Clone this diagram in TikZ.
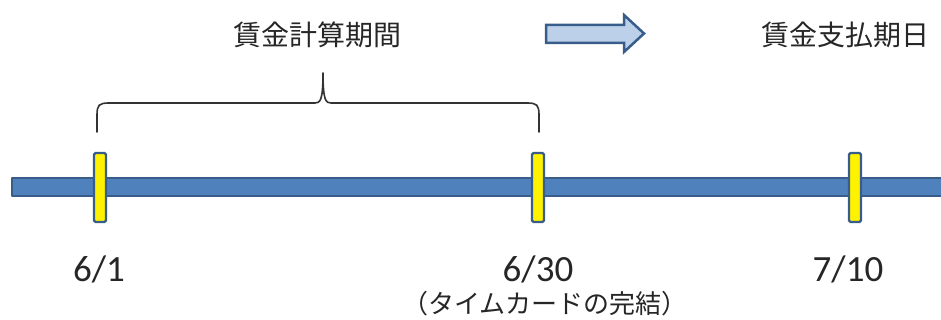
\documentclass[tikz,border=0pt]{standalone}
\usepackage{fontspec}
\setmainfont{Carlito}
\newfontfamily\cjk{Noto Sans CJK JP}
\definecolor{barblue}{HTML}{4F81BD}
\definecolor{edgeblue}{HTML}{385D8A}
\definecolor{arrowfill}{HTML}{BDD0E9}
\tikzset{
  marker/.style={draw=edgeblue, line width=2.2pt, fill=yellow, rounded corners=1.5pt,
    minimum width=12pt, minimum height=69pt, inner sep=0pt},
  datelabel/.style={anchor=base, font=\fontsize{37}{40}\selectfont, text=black!85, inner sep=0pt},
  toplabel/.style={font=\cjk\fontsize{28}{32}\selectfont, text=black!85, inner sep=0pt},
  notelabel/.style={font=\cjk\fontsize{26}{30}\selectfont, text=black!85, inner sep=0pt},
}
\begin{document}
\begin{tikzpicture}[x=1pt,y=1pt]
\useasboundingbox (0,0) rectangle (941,320);
\clip (0,0) rectangle (941,320);
% time bar
\fill[barblue] (12,124) rectangle (950,142);
\draw[edgeblue, line width=2.2pt, line join=round] (950,142) -- (12,142) -- (12,124) -- (950,124);
% markers
\node[marker] (m1) at (100,132.5) {};
\node[marker] (m2) at (538,132.5) {};
\node[marker] (m3) at (855,132.5) {};
% date labels
\node[datelabel] (d1) at (99,38) {6/1};
\node[datelabel] (d2) at (538,38) {6/30};
\node[datelabel] (d3) at (848,38) {7/10};
\node[notelabel] (n2) at (545,16) {（タイムカードの完結）};
% brace
\draw[black!80, line width=1.6pt, line cap=round, line join=round]
  (97,188) -- (97,205) .. controls (97,215) and (99,217) .. (109,217)
  -- (315,217) .. controls (320,217) and (323,219) .. (323,247)
  .. controls (323,219) and (326,217) .. (331,217)
  -- (527,217) .. controls (537,217) and (539,215) .. (539,205) -- (539,188);
% top labels
\node[toplabel] (t1) at (317,285) {賃金計算期間};
\node[toplabel] (t2) at (845,285) {賃金支払期日};
% arrow
\draw[edgeblue, fill=arrowfill, line width=2.5pt, line join=miter]
  (546,277) -- (624,277) -- (624,268) -- (644,286.5) -- (624,305) -- (624,295) -- (546,295) -- cycle;
\end{tikzpicture}
\end{document}
